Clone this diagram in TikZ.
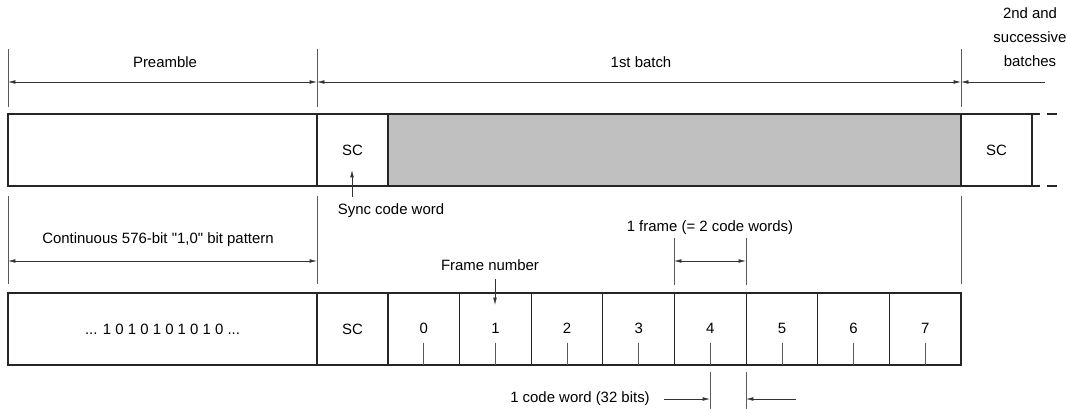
\documentclass[tikz,border=0pt]{standalone}
\usepackage{fontspec}
\newfontfamily\labelfont{Liberation Sans}
\usetikzlibrary{arrows.meta}
\definecolor{slot}{RGB}{192,192,192}
\definecolor{guide}{RGB}{90,90,90}
\tikzset{
  box/.style={draw=black!85,line width=0.8pt},
  ext/.style={draw=guide,line width=0.5pt},
  dim/.style={draw=black!80,line width=0.5pt,{Latex[length=5.5pt,width=2.8pt]}-{Latex[length=5.5pt,width=2.8pt]}},
  tip/.style={draw=black!80,line width=0.5pt,-{Latex[length=5.5pt,width=2.8pt]}},
}
\begin{document}
\begin{tikzpicture}[x=0.75pt,y=-0.75pt,font=\labelfont\fontsize{11.2}{13}\selectfont]
  \useasboundingbox (0,0) rectangle (1068,409);
  % extension lines above the batch row
  \foreach \x in {8,317,961}{\draw[ext] (\x,49)--(\x,107); \draw[ext] (\x,196)--(\x,284);}
  % dimensions
  \draw[dim] (8,82) -- (317,82);
  \draw[dim] (317,82) -- (961,82);
  \draw[tip] (1045,82) -- (961,82);
  \node (preamble) at (165,62) {Preamble};
  \node (batch) at (641,62) {1st batch};
  \node[align=center,inner sep=0pt] (later) at (1030,37) {2nd and\\[5pt]successive\\[5pt]batches};
  % batch row
  \draw[box] (8,114) rectangle (317,186);
  \draw[box] (317,114) rectangle (388,186) node[midway] (sc1) {SC};
  \draw[box,fill=slot] (388,114) rectangle (961,186);
  \draw[box] (961,114) rectangle (1032,186) node[midway] (sc2) {SC};
  \foreach \y in {114,186}{\draw[box] (1032,\y)--(1040,\y) (1047,\y)--(1057,\y);}
  % sync code word
  \draw[tip] (352,197) -- (352,170);
  \node (sync) at (391,211) {Sync code word};
  % preamble bits
  \draw[dim] (8,261) -- (317,261);
  \node (bits) at (158,240) {Continuous 576-bit "1,0" bit pattern};
  % frame row
  \draw[box] (8,293) rectangle (317,365) node[midway] (pat) {... 1 0 1 0 1 0 1 0 1 0 ...};
  \draw[box] (317,293) rectangle (388,365) node[midway] (sc3) {SC};
  \foreach \i in {0,...,7}{
    \pgfmathsetmacro{\xa}{388+71.625*\i}
    \pgfmathsetmacro{\xb}{\xa+71.625}
    \pgfmathsetmacro{\xm}{\xa+35.8}
    \draw[box] (\xa,293) rectangle (\xb,365);
    \node (f\i) at (\xm,328) {\i};
    \draw[ext] (\xm,343) -- (\xm,365);
  }
  % frame number
  \draw[tip] (495,279) -- (495,305);
  \node (fnum) at (490,265) {Frame number};
  % one frame
  \draw[ext] (674,238) -- (674,285) (746,238) -- (746,285);
  \draw[dim] (674,261) -- (746,261);
  \node (frame) at (710,228) {1 frame (= 2 code words)};
  % one code word
  \draw[ext] (710,372) -- (710,409) (746,372) -- (746,409);
  \draw[tip] (664,399) -- (710,399);
  \draw[tip] (796,399) -- (746,399);
  \node (word) at (580,399) {1 code word (32 bits)};
\end{tikzpicture}
\end{document}
